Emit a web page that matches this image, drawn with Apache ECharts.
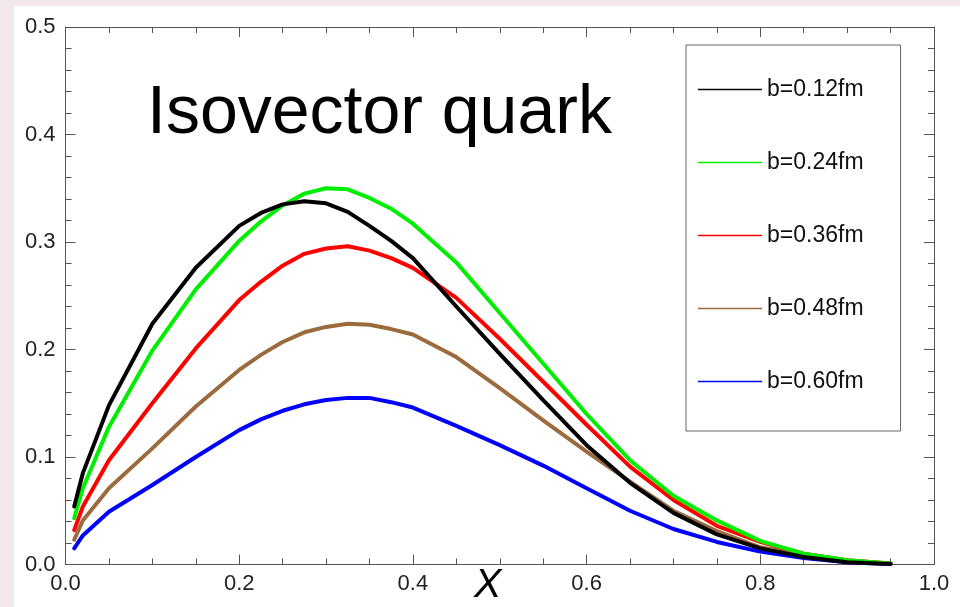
<!DOCTYPE html>
<html>
<head>
<meta charset="utf-8">
<script src="https://cdn.jsdelivr.net/npm/echarts@6/dist/echarts.min.js"></script>
<style>
html,body{margin:0;padding:0;background:#f3e9eb;}
#c{width:960px;height:607px;}
</style>
</head>
<body>
<div id="c"></div>
<script>
const xs   = [0.01, 0.02, 0.05, 0.1, 0.15, 0.2, 0.225, 0.25, 0.275, 0.3, 0.325, 0.35, 0.375, 0.4, 0.45, 0.5, 0.55, 0.6, 0.65, 0.7, 0.75, 0.8, 0.85, 0.9, 0.95];
const b012 = [0.054, 0.085, 0.148, 0.224, 0.276, 0.315, 0.327, 0.335, 0.338, 0.336, 0.328, 0.315, 0.301, 0.285, 0.240, 0.196, 0.153, 0.111, 0.076, 0.048, 0.028, 0.015, 0.007, 0.002, 0.0005];
const b024 = [0.043, 0.071, 0.128, 0.199, 0.256, 0.301, 0.319, 0.334, 0.345, 0.350, 0.349, 0.341, 0.331, 0.317, 0.281, 0.234, 0.187, 0.140, 0.097, 0.064, 0.041, 0.022, 0.010, 0.004, 0.001];
const b036 = [0.032, 0.054, 0.097, 0.150, 0.201, 0.246, 0.263, 0.278, 0.289, 0.294, 0.296, 0.292, 0.285, 0.276, 0.248, 0.210, 0.170, 0.130, 0.091, 0.060, 0.036, 0.021, 0.010, 0.004, 0.001];
const b048 = [0.023, 0.041, 0.071, 0.108, 0.147, 0.181, 0.195, 0.207, 0.216, 0.221, 0.224, 0.223, 0.219, 0.214, 0.193, 0.164, 0.134, 0.105, 0.077, 0.050, 0.031, 0.016, 0.009, 0.003, 0.0008];
const b060 = [0.015, 0.027, 0.049, 0.074, 0.100, 0.125, 0.135, 0.143, 0.149, 0.153, 0.155, 0.155, 0.151, 0.146, 0.129, 0.111, 0.092, 0.071, 0.050, 0.033, 0.021, 0.012, 0.006, 0.002, 0.0005];
const seriesNames = ['b=0.12fm', 'b=0.24fm', 'b=0.36fm', 'b=0.48fm', 'b=0.60fm'];
const seriesColors = ['#000000', '#00ee00', '#ff0000', '#9b6b3e', '#0000ff'];
const seriesValues = [b012, b024, b036, b048, b060];
const titleText = 'Isovector quark';
const xAxisName = 'X';

const chart = echarts.init(document.getElementById('c'));
const font = 'Liberation Sans, Arial, sans-serif';
const axisLineStyle = {color: '#555', width: 1};
function mkX(pos, labels) {
  return {
    type: 'value', position: pos, min: 0, max: 1, interval: 0.2,
    axisLine: {show: true, onZero: false, lineStyle: axisLineStyle},
    axisTick: {show: true, inside: true, length: 10, lineStyle: axisLineStyle},
    minorTick: {show: true, splitNumber: 4, length: 6, lineStyle: axisLineStyle},
    axisLabel: {show: labels, fontFamily: font, fontSize: 22, color: '#222', margin: 8, formatter: v => v.toFixed(1)},
    splitLine: {show: false}, minorSplitLine: {show: false}
  };
}
function mkY(pos, labels) {
  return {
    type: 'value', position: pos, min: 0, max: 0.5, interval: 0.1,
    axisLine: {show: true, onZero: false, lineStyle: axisLineStyle},
    axisTick: {show: true, inside: true, length: 10, lineStyle: axisLineStyle},
    minorTick: {show: true, splitNumber: 5, length: 6, lineStyle: axisLineStyle},
    axisLabel: {show: labels, fontFamily: font, fontSize: 22, color: '#222', margin: 10, formatter: v => v.toFixed(1)},
    splitLine: {show: false}, minorSplitLine: {show: false}
  };
}
const series = seriesNames.map((n, i) => ({
  name: n, type: 'line', xAxisIndex: 0, yAxisIndex: 0,
  data: xs.map((x, j) => [x, seriesValues[i][j]]),
  showSymbol: false, smooth: false,
  lineStyle: {color: seriesColors[i], width: 4, join: 'round', cap: 'round'},
  itemStyle: {color: seriesColors[i]},
  z: 10 - i
}));
chart.setOption({
  animation: false,
  backgroundColor: 'transparent',
  grid: {left: 65.5, right: 26, top: 27, bottom: 42.5, containLabel: false},
  xAxis: [mkX('bottom', true), mkX('top', false)],
  yAxis: [mkY('left', true), mkY('right', false)],
  legend: {
    orient: 'vertical', left: 686, top: 45,
    data: seriesNames,
    icon: 'rect', itemWidth: 64, itemHeight: 1.5, itemGap: 50,
    padding: [33, 37, 38, 12],
    borderColor: '#666', borderWidth: 1, backgroundColor: '#fff',
    textStyle: {fontFamily: font, fontSize: 23, color: '#111', lineHeight: 23},
    selectedMode: false
  },
  graphic: [
    {type: 'rect', z: -10, silent: true, shape: {x: 14, y: 6, width: 946, height: 601}, style: {fill: '#ffffff'}},
    {type: 'text', z: 20, left: 147, top: 80, style: {text: titleText, fontFamily: font, fontSize: 68, fill: '#000'}},
    {type: 'text', z: 20, left: 474, top: 565, style: {text: xAxisName, fontFamily: font, fontSize: 41, fontStyle: 'italic', fill: '#000'}}
  ],
  series: series
});
</script>
</body>
</html>
